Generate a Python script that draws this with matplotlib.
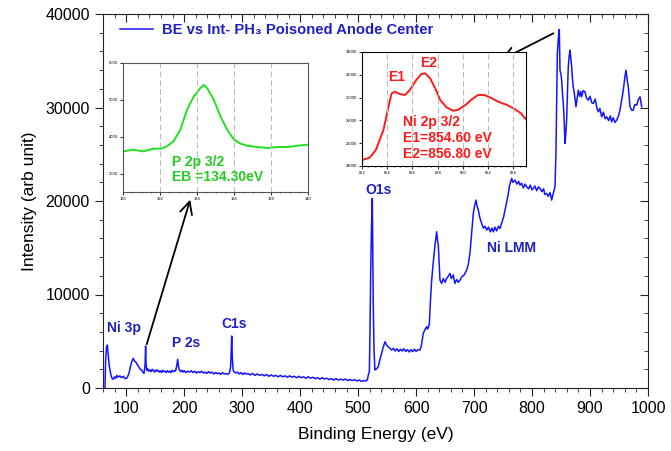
import matplotlib
matplotlib.use("Agg")
import matplotlib.pyplot as plt
from matplotlib.ticker import MultipleLocator

plt.rcParams['font.family'] = ['Liberation Sans', 'DejaVu Sans']

# ---- main survey spectrum (binding energy eV, intensity) ----
be = [63.4, 64.5, 66, 67.5, 69, 70.5, 72, 74, 76, 77.8, 80, 82, 84, 86, 89, 92, 95, 98, 100.9, 103,
      105, 107, 109.5, 111, 112.3, 114, 116, 118, 120, 122, 124, 126.7, 128, 130.7, 132.5, 133.5,
      134.2, 135.5, 137, 139, 141, 143, 145, 147, 149, 151, 153, 155, 157, 159, 161, 163, 165, 167,
      169, 171, 173, 175, 177, 179, 181, 183, 185, 187, 188.8, 190, 191.6, 194, 196, 198, 200, 203,
      206, 209, 212, 215, 218, 221, 224, 227, 230, 233, 236, 239, 242, 245, 248, 251, 254, 257, 260,
      263, 266, 269, 272, 275, 278, 280, 281, 282, 283, 284.5, 286, 289, 292, 295, 298, 301, 304,
      307, 310, 314, 318, 322, 326, 330, 334, 338, 342, 346, 350, 354, 358, 362, 366, 370, 374, 378,
      382, 386, 390, 394, 398, 402, 406, 410, 414, 418, 422, 426, 430, 434, 438, 442, 446, 450, 454,
      458, 462, 466, 470, 474, 478, 482, 486, 490, 494, 498, 502, 506, 510, 514, 516, 518, 519.4,
      520.5, 521.7, 523, 524.5, 525.3, 526.2, 527.5, 529, 531, 534.8, 537, 540.6, 543, 546.4, 549,
      552.1, 555, 557.9, 561, 564, 567, 570, 573, 576, 579, 582, 585, 588, 591, 594, 597, 600, 603,
      606.7, 609, 612.4, 615, 618.2, 620, 622.8, 624.5, 626.9, 629, 630.8, 633, 635.5, 637, 638.3,
      640, 641.2, 644, 647, 650, 652.6, 655, 658.4, 661, 664, 667, 670, 673, 675.7, 679, 683, 687.2,
      690, 692.9, 695, 698.7, 701, 703.3, 705, 707.3, 710, 713.1, 716, 719, 721.8, 725, 728, 731,
      733.2, 736, 739, 742, 744.7, 748, 751, 753.3, 756, 759.1, 761, 764.9, 767, 770.6, 774, 777,
      779.2, 782, 785, 788, 790.8, 794, 797, 800, 802.2, 805, 808, 811, 813.7, 817, 820, 822, 825.2,
      828, 831, 833.8, 836.6, 839.6, 841.3, 843.6, 845.5, 847, 848.2, 850, 851.1, 852.5, 853.9,
      855.5, 856.8, 858, 859.7, 861, 862.5, 864, 865.4, 867, 868.4, 869.5, 871.1, 873, 875.8, 877.5,
      879.8, 882, 884, 885.6, 888, 891.3, 894, 897, 900, 903, 905.6, 909, 912, 914.3, 917, 920.1,
      923, 926, 928.7, 932, 935, 937.3, 940, 943, 946, 949, 951.7, 954, 957.4, 960, 962, 964, 966,
      969, 972, 974.7, 977, 980.5, 983, 986.3, 989.1]
inten = [0, 3000, 4300, 4600, 3500, 2500, 1924, 1300, 1000, 930, 1200, 1050, 1350, 1150, 1300, 1100,
         1250, 1000, 1050, 1300, 1600, 2200, 2815, 3000, 3171, 2900, 2800, 2637, 2400, 2250, 2000,
         1924, 1750, 1568, 2400, 4490, 2600, 1900, 2050, 1800, 1950, 1750, 2000, 1850, 1700, 1950,
         1800, 1900, 1700, 1850, 1650, 1900, 1750, 1800, 1650, 1850, 1700, 1800, 1650, 1900, 1750,
         1850, 1800, 2300, 3065, 2400, 1924, 1750, 1900, 1700, 1850, 1650, 1800, 1700, 1850, 1650,
         1800, 1600, 1750, 1650, 1800, 1600, 1700, 1550, 1750, 1600, 1700, 1500, 1650, 1550, 1600,
         1450, 1650, 1500, 1550, 1450, 1600, 2200, 3700, 5559, 3300, 1900, 1750, 1600, 1700, 1500,
         1650, 1450, 1600, 1500, 1550, 1400, 1550, 1350, 1500, 1350, 1450, 1300, 1450, 1250, 1400,
         1250, 1350, 1200, 1350, 1200, 1300, 1150, 1300, 1150, 1250, 1100, 1250, 1100, 1200, 1050,
         1200, 1050, 1150, 1000, 1100, 950, 1100, 950, 1050, 900, 1000, 850, 1000, 850, 950, 850, 950,
         800, 900, 800, 900, 750, 850, 700, 800, 750, 900, 1500, 1746, 6000, 12260, 17000, 20277,
         15000, 8695, 4000, 1924, 2000, 2280, 2900, 3705, 4300, 4953, 4600, 4418, 4250, 4062, 4250,
         3950, 4200, 3900, 4150, 3950, 4200, 3900, 4100, 3850, 4100, 3883, 4150, 3900, 4100, 4062,
         4500, 5844, 6200, 6557, 6300, 6800, 9000, 11545, 13000, 14218, 15500, 16709, 15800, 15291,
         13000, 11545, 11190, 11700, 11300, 11725, 11900, 12260, 11700, 12100, 11190, 11600, 11300,
         11545, 11900, 12100, 12614, 13200, 14400, 16000, 18676, 19500, 20097, 19500, 19030, 18200,
         17600, 17100, 17300, 16888, 17200, 16700, 17100, 16709, 17200, 16800, 17300, 17065, 17700,
         18300, 19028, 19800, 20810, 21600, 22413, 22000, 22235, 21800, 22100, 21700, 21900, 21400,
         21800, 21520, 21300, 21700, 21200, 21343, 21600, 21100, 21500, 21343, 21000, 21300, 20700,
         20810, 20500, 20900, 20097, 20810, 21520, 25260, 35780, 37500, 38346, 33994, 33500, 32925,
         31500, 30432, 28500, 26157, 27000, 28649, 31500, 34350, 35500, 36132, 35200, 34350, 33200,
         32213, 31500, 30076, 30800, 31857, 31200, 31700, 31145, 31800, 31680, 31000, 30788, 31200,
         30500, 30432, 30900, 29900, 29540, 29900, 29006, 29500, 28800, 29006, 28600, 29100, 28470,
         28900, 28400, 28649, 29100, 29718, 30600, 31857, 33200, 33994, 33000, 32213, 30076, 29700,
         29718, 30300, 30254, 30800, 31145, 30076]

# ---- inset: P 2p region ----
p2p_be = [130.02, 130.56, 131.1, 131.65, 132.06, 132.37, 132.73, 133.1, 133.46, 133.82,
          134.18, 134.37, 134.55, 134.91, 135.27, 135.63, 136.0, 136.36, 136.72, 137.26,
          137.8, 138.35, 138.9, 139.44, 139.98]
p2p_int = [3603, 3648, 3603, 3675, 3676, 3739, 3874, 4189, 4730, 5090,
           5315, 5405, 5315, 5000, 4550, 4189, 3919, 3810, 3757, 3720,
           3694, 3720, 3720, 3757, 3784]

# ---- inset: Ni 2p 3/2 region ----
ni_be = [852.0, 852.6, 853.1, 853.7, 854.1, 854.35, 854.6, 855.0, 855.4, 855.8, 856.3, 856.7,
         857.0, 857.4, 857.8, 858.2, 858.7, 859.2, 859.6, 860.2, 860.7, 861.2, 861.7, 862.3,
         862.8, 863.5, 864.0, 864.6, 865.0]
ni_int = [24526, 24728, 25404, 27158, 29202, 30377, 30518, 30316, 30228, 30667, 31544, 32070,
          32126, 31690, 30816, 29789, 29149, 28853, 28912, 29351, 29848, 30228, 30228, 29935,
          29643, 29351, 29060, 28623, 28097]

W, H = 671, 451
fig = plt.figure(figsize=(W / 100, H / 100), dpi=100)

def rect(l, t, r, b):
    return [l / W, 1 - b / H, (r - l) / W, (b - t) / H]

ax = fig.add_axes(rect(103, 14, 648, 388))
blue = '#1414ff'
ax.plot(be, inten, color=blue, lw=1.1, label='BE vs Int- PH₃ Poisoned Anode Center')
ax.set_xlim(60, 1000)
ax.set_ylim(0, 40000)
ax.xaxis.set_major_locator(MultipleLocator(100))
ax.xaxis.set_minor_locator(MultipleLocator(20))
ax.yaxis.set_major_locator(MultipleLocator(10000))
ax.yaxis.set_minor_locator(MultipleLocator(2000))
ax.tick_params(axis='both', which='both', top=True, right=True, labelsize=11.5, color='#222222')
ax.tick_params(axis='both', which='major', length=6, direction='out')
ax.tick_params(axis='both', which='minor', length=3, direction='out')
for t in ax.xaxis.get_major_ticks() + ax.xaxis.get_minor_ticks():
    t.tick2line.set_marker(3)
for t in ax.yaxis.get_major_ticks() + ax.yaxis.get_minor_ticks():
    t.tick2line.set_marker(0)
for s in ax.spines.values():
    s.set_color('#222222')
ax.set_xlabel('Binding Energy (eV)', fontsize=12.5, labelpad=8)
ax.set_ylabel('Intensity (arb unit)', fontsize=12.5, labelpad=6)

leg = ax.legend(loc='upper left', bbox_to_anchor=(0.031, 0.975), frameon=False,
                borderpad=0, borderaxespad=0,
                handlelength=2.25, handletextpad=0.6,
                prop={'weight': 'bold', 'size': 10.6})
for txt in leg.get_texts():
    txt.set_color('#2020c0')

lab = dict(color='#2020c0', fontsize=10, fontweight='bold', va='center', ha='left')
ax.text(66.9, 6414, 'Ni 3p', **lab)
ax.text(179, 4810, 'P 2s', **lab)
ax.text(265, 6842, 'C1s', **lab)
ax.text(512, 21166, 'O1s', **lab)
ax.text(722, 14966, 'Ni LMM', **lab)

# arrows
ax.annotate('', xy=(191 / W, 1 - 197 / H), xycoords='figure fraction',
            xytext=(134, 4400), textcoords='data',
            arrowprops=dict(arrowstyle='->', color='black', lw=1.3, mutation_scale=22))
ax.annotate('', xy=(499 / W, 1 - 61 / H), xycoords='figure fraction',
            xytext=(556 / W, 1 - 32 / H), textcoords='figure fraction',
            arrowprops=dict(arrowstyle='->', color='black', lw=1.3, mutation_scale=22))

# inset P 2p
ax1 = fig.add_axes(rect(123, 63, 308, 192))
ax1.plot(p2p_be, p2p_int, color='#22e022', lw=1.4)
ax1.set_xlim(130, 140)
ax1.set_ylim(2500, 6000)
ax1.set_xticks([130, 132, 134, 136, 138, 140])
ax1.set_yticks([3000, 4000, 5000, 6000])
ax1.xaxis.set_minor_locator(MultipleLocator(0.5))
ax1.tick_params(labelsize=3, length=2, width=0.6, pad=1.5)
ax1.tick_params(which='minor', length=1, width=0.5)
for x in [132, 134, 136, 138]:
    ax1.axvline(x, color='#bbbbbb', lw=0.8, ls=(0, (5, 3)))
for s in ax1.spines.values():
    s.set_color('#555555')
gtxt = dict(color='#22cc22', fontsize=10, fontweight='bold', va='center', ha='left')
ax1.text(132.65, 3310, 'P 2p 3/2', **gtxt)
ax1.text(132.65, 2905, 'EB =134.30eV', **gtxt)

# inset Ni 2p
ax2 = fig.add_axes(rect(362, 52, 526, 166))
ax2.plot(ni_be, ni_int, color='#ff1a1a', lw=1.4)
ax2.set_xlim(852, 865)
ax2.set_ylim(24000, 34000)
ax2.set_xticks([852, 854, 856, 858, 860, 862, 864])
ax2.set_yticks([24000, 26000, 28000, 30000, 32000, 34000])
ax2.xaxis.set_minor_locator(MultipleLocator(0.5))
ax2.tick_params(labelsize=3, length=2, width=0.6, pad=1.5)
ax2.tick_params(which='minor', length=1, width=0.5)
for x in [854, 856, 858, 860, 862, 864]:
    ax2.axvline(x, color='#bbbbbb', lw=0.8, ls=(0, (5, 3)))
rtxt = dict(color='#ff1a1a', fontsize=10, fontweight='bold', va='center', ha='left')
ax2.text(854.1, 31800, 'E1', **rtxt)
ax2.text(856.6, 33000, 'E2', **rtxt)
ax2.text(855.25, 27890, 'Ni 2p 3/2', **rtxt)
ax2.text(855.25, 26456, 'E1=854.60 eV', **rtxt)
ax2.text(855.25, 25053, 'E2=856.80 eV', **rtxt)

fig.savefig('out.png', dpi=100)
